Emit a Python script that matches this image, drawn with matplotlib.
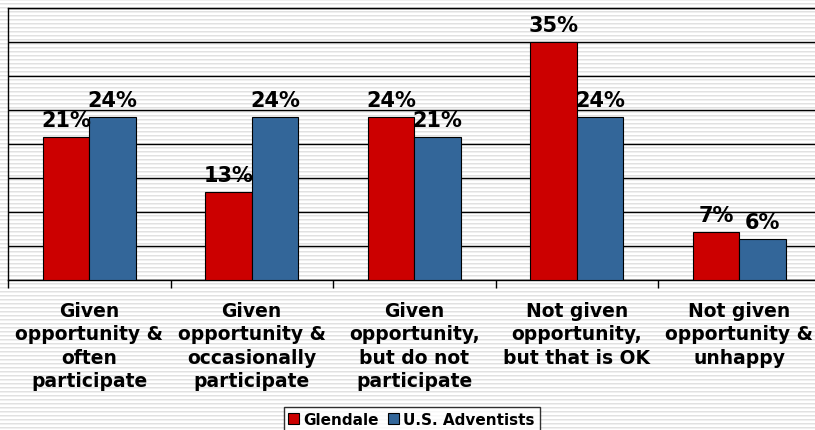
import numpy as np
import matplotlib
matplotlib.use("Agg")
import matplotlib.pyplot as plt

categories = [
    "Given\nopportunity &\noften\nparticipate",
    "Given\nopportunity &\noccasionally\nparticipate",
    "Given\nopportunity,\nbut do not\nparticipate",
    "Not given\nopportunity,\nbut that is OK",
    "Not given\nopportunity &\nunhappy",
]
glendale = [21, 13, 24, 35, 7]
adventists = [24, 24, 21, 24, 6]
series_names = ["Glendale", "U.S. Adventists"]
colors = ["#cc0000", "#336699"]

fig = plt.figure(figsize=(8.15, 4.31), dpi=100)

# striped slide background
bg = fig.add_axes([0, 0, 1, 1], zorder=-10)
rows = np.ones((431, 1))
rows[::4] = 0.88
rows[1::4] = 0.94
bg.imshow(rows, cmap="gray", vmin=0, vmax=1, aspect="auto", interpolation="nearest")
bg.axis("off")

ax = fig.add_axes([8 / 815, 0.3487, 812.5 / 815, 0.6297])
ax.set_facecolor("none")

x = np.arange(len(categories))
w = 0.286
b1 = ax.bar(x - w / 2, glendale, w, color=colors[0], edgecolor="black", linewidth=0.8,
            label=series_names[0], zorder=3)
b2 = ax.bar(x + w / 2, adventists, w, color=colors[1], edgecolor="black", linewidth=0.8,
            label=series_names[1], zorder=3)

for bars in (b1, b2):
    for rect in bars:
        v = rect.get_height()
        ax.annotate(f"{v:.0f}%", (rect.get_x() + rect.get_width() / 2, v),
                    xytext=(0, 5), textcoords="offset points", ha="center", va="bottom",
                    fontsize=15, fontweight="bold", zorder=4)

ax.set_ylim(0, 40)
ax.set_xlim(-0.5, len(categories) - 0.5)
ax.set_yticks(np.arange(0, 41, 5))
ax.set_yticklabels([])
ax.tick_params(axis="y", length=0)
ax.yaxis.grid(True, color="black", linewidth=1)
ax.set_axisbelow(True)

ax.set_xticks(x)
ax.set_xticklabels(categories, fontsize=13.5, fontweight="bold", linespacing=1.3)
ax.tick_params(axis="x", length=0, pad=15)
ax.set_xticks(np.arange(len(categories) + 1) - 0.5, minor=True)
ax.tick_params(axis="x", which="minor", length=6, width=1, color="black")

for s in ["left", "top", "bottom"]:
    ax.spines[s].set_color("black")
    ax.spines[s].set_linewidth(1)
ax.spines["right"].set_visible(False)

leg = fig.legend(loc="upper center", bbox_to_anchor=(0.505, 0.053), ncol=2,
                 prop={"weight": "bold", "size": 11}, frameon=True, fancybox=False,
                 edgecolor="black", handlelength=0.7, handleheight=0.7,
                 handletextpad=0.3, columnspacing=0.6, borderpad=0.3, borderaxespad=0)
leg.get_frame().set_linewidth(1)

fig.savefig("out.png", dpi=100)
